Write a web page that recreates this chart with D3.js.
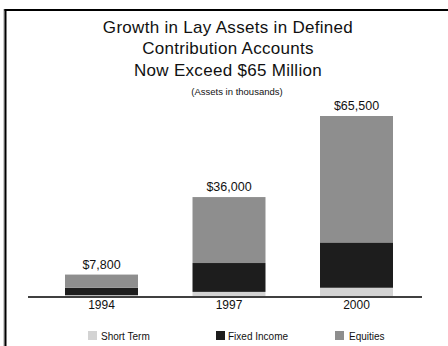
<!DOCTYPE html>
<html><head><meta charset="utf-8">
<script src="https://cdn.jsdelivr.net/npm/d3@7"></script>
<style>html,body{margin:0;padding:0;background:#fff;}svg{display:block;font-family:"Liberation Sans",Arial,Helvetica,sans-serif;}</style>
</head><body>
<svg id="c" width="448" height="346"></svg>
<script>
const years = ["1994", "1997", "2000"];
const shortTerm = [300, 1500, 3000];
const fixedIncome = [2700, 10500, 16500];
const equities = [4800, 24000, 46000];
const totals = [7800, 36000, 65500];
const totalLabels = ["$7,800", "$36,000", "$65,500"];
const seriesNames = ["Short Term", "Fixed Income", "Equities"];
const titleLines = ["Growth in Lay Assets in Defined", "Contribution Accounts", "Now Exceed $65 Million"];
const subtitle = "(Assets in thousands)";

const colors = ["#d3d3d3", "#1d1d1d", "#8e8e8e"];
const svg = d3.select("#c");

// frame (top + left border with slight shadow)
svg.append("line").attr("x1", 4).attr("x2", 4).attr("y1", 9).attr("y2", 346).attr("stroke", "#999").attr("stroke-width", 1);
svg.append("line").attr("x1", 5.5).attr("x2", 5.5).attr("y1", 9).attr("y2", 346).attr("stroke", "#000").attr("stroke-width", 2);
svg.append("line").attr("x1", 4.5).attr("x2", 448).attr("y1", 10).attr("y2", 10).attr("stroke", "#000").attr("stroke-width", 2);

// title
titleLines.forEach((t, i) => {
  svg.append("text").attr("x", 228).attr("y", 32.5 + i * 21.5).attr("text-anchor", "middle")
    .attr("font-size", 17).attr("letter-spacing", 0.3).attr("fill", "#111").text(t);
});
svg.append("text").attr("x", 237).attr("y", 95).attr("text-anchor", "middle")
  .attr("font-size", 9.5).attr("fill", "#111").text(subtitle);

const data = years.map((y, i) => ({year: y, "Short Term": shortTerm[i], "Fixed Income": fixedIncome[i], "Equities": equities[i]}));
const stack = d3.stack().keys(seriesNames)(data);

const x = d3.scaleBand().domain(years).range([65, 393]).paddingInner(0.4275).paddingOuter(0);
const y = d3.scaleLinear().domain([0, 65500]).range([296, 116]);

svg.append("g").selectAll("g").data(stack).join("g").attr("fill", (d, i) => colors[i])
  .selectAll("rect").data(d => d).join("rect")
  .attr("x", d => x(d.data.year)).attr("width", x.bandwidth())
  .attr("y", d => y(d[1])).attr("height", d => y(d[0]) - y(d[1]));

// total labels
svg.append("g").selectAll("text").data(years).join("text")
  .attr("x", d => x(d) + x.bandwidth() / 2).attr("y", (d, i) => y(totals[i]) - 6)
  .attr("text-anchor", "middle").attr("font-size", 12.5).attr("fill", "#111")
  .text((d, i) => totalLabels[i]);

// baseline axis
svg.append("line").attr("x1", 28).attr("x2", 422).attr("y1", 297).attr("y2", 297).attr("stroke", "#000").attr("stroke-width", 1.5);

// year labels via axis
const ax = svg.append("g").attr("transform", "translate(0,297)")
  .call(d3.axisBottom(x).tickSize(0).tickPadding(3));
ax.select(".domain").remove();
ax.selectAll("text").attr("font-size", 12).attr("fill", "#111").attr("font-family", "Liberation Sans, Arial, sans-serif").attr("dy", "0.71em");

// legend
const legX = [88, 216, 335];
const legTextX = [101, 228, 349];
const leg = svg.append("g");
seriesNames.forEach((n, i) => {
  leg.append("rect").attr("x", legX[i]).attr("y", 331).attr("width", 9).attr("height", 9).attr("fill", colors[i]);
  leg.append("text").attr("x", legTextX[i]).attr("y", 340).attr("font-size", 10).attr("fill", "#111").text(n);
});
</script>
</body></html>
